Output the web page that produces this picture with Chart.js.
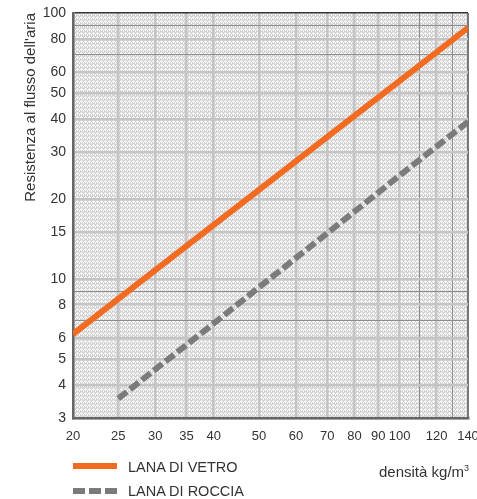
<!DOCTYPE html>
<html><head><meta charset="utf-8">
<script src="https://cdn.jsdelivr.net/npm/chart.js@4.4.0/dist/chart.umd.min.js"></script>
<style>
html,body{margin:0;padding:0;background:#fff;}
#wrap{position:relative;width:477px;height:499px;overflow:hidden;}
canvas{position:absolute;left:0;top:0;}
.leg{position:absolute;font-family:"Liberation Sans",Arial,sans-serif;font-size:14.5px;color:#333;line-height:16px;white-space:nowrap;}
.sw{position:absolute;height:6px;}
</style></head><body>
<div id="wrap">
<canvas id="c" width="477" height="499"></canvas>
<div class="sw" style="left:73px;top:463px;width:44px;background:#f26b21"></div>
<div class="leg" style="left:128px;top:459px">LANA DI VETRO</div>
<div class="sw" style="left:73px;top:488px;width:44px;background:repeating-linear-gradient(90deg,#7b7b7b 0 12px,transparent 12px 16px)"></div>
<div class="leg" style="left:128px;top:483px">LANA DI ROCCIA</div>
<div class="leg" style="left:379px;top:460px;font-size:15px">densità kg/m<span style="font-size:9px;vertical-align:6px">3</span></div>
</div>
<script>
// data
const densitaVetro = [20, 30, 50, 80, 100, 140];
const lanaDiVetro  = [6.2, 10.8, 21.6, 41, 55.6, 88];
const densitaRoccia = [25, 40, 50, 80, 100, 140];
const lanaDiRoccia  = [3.55, 6.8, 9.3, 17.9, 24.5, 39];
const xGrid   = [20, 25, 30, 35, 40, 50, 60, 70, 80, 90, 100, 110, 120, 130, 140];
const xLabels = [20, 25, 30, 35, 40, 50, 60, 70, 80, 90, 100, 120, 140];
const yGrid   = [3, 4, 5, 6, 7, 8, 9, 10, 15, 20, 30, 40, 50, 60, 70, 80, 90, 100];
const yLabels = [3, 4, 5, 6, 8, 10, 15, 20, 30, 40, 50, 60, 80, 100];
const yTitle = "Resistenza al flusso dell'aria";

const toPts = (xs, ys) => xs.map((x, i) => ({x: x, y: ys[i]}));

const bgPlugin = {
  id: 'bg',
  beforeDraw(chart) {
    const {ctx, chartArea: a} = chart;
    const t = document.createElement('canvas'); t.width = 4; t.height = 4;
    const g = t.getContext('2d');
    g.fillStyle = '#d3d3d3'; g.fillRect(0, 0, 4, 4);
    g.fillStyle = '#f7f7f7';
    g.fillRect(1, 0, 1, 1); g.fillRect(0, 1, 3, 1); g.fillRect(1, 2, 1, 1);
    g.fillRect(3, 2, 1, 1); g.fillRect(3, 3, 1, 1);
    ctx.save();
    ctx.fillStyle = ctx.createPattern(t, 'repeat');
    ctx.fillRect(a.left, a.top, a.right - a.left, a.bottom - a.top);
    ctx.restore();
  }
};

const fam = '"Liberation Sans", Arial, sans-serif';

new Chart(document.getElementById('c'), {
  type: 'scatter',
  data: {
    datasets: [
      {label: 'LANA DI VETRO', data: toPts(densitaVetro, lanaDiVetro), showLine: true,
       borderColor: '#f26b21', borderWidth: 6, pointRadius: 0, borderCapStyle: 'butt', tension: 0},
      {label: 'LANA DI ROCCIA', data: toPts(densitaRoccia, lanaDiRoccia), showLine: true,
       borderColor: '#7b7b7b', borderWidth: 6, borderDash: [11, 4], pointRadius: 0, borderCapStyle: 'butt', tension: 0}
    ]
  },
  options: {
    responsive: false, devicePixelRatio: 1, animation: false,
    layout: {padding: {top: 13, right: 9, left: 0, bottom: 0}},
    plugins: {legend: {display: false}, tooltip: {enabled: false}},
    scales: {
      x: {
        type: 'logarithmic', min: 20, max: 140,
        afterBuildTicks: s => { s.ticks = xGrid.map(v => ({value: v})); },
        afterFit: s => { s.height = 81; s.paddingLeft = 0; s.paddingRight = 0; },
        ticks: {autoSkip: false, maxRotation: 0, font: {family: fam, size: 13}, color: '#333', padding: 11,
                callback: v => xLabels.includes(v) ? String(v) : ''},
        grid: {drawTicks: false,
               color: c => c.tick.value === 140 ? '#777' : (xLabels.includes(c.tick.value) ? '#c4c4c4' : '#8c8c8c'),
               lineWidth: c => c.tick.value === 140 ? 2 : (xLabels.includes(c.tick.value) ? 2.5 : 1)},
        border: {display: true, color: '#666', width: 2.5}
      },
      y: {
        type: 'logarithmic', min: 3, max: 100,
        afterBuildTicks: s => { s.ticks = yGrid.map(v => ({value: v})); },
        afterFit: s => { s.width = 73; s.paddingTop = 0; s.paddingBottom = 0; },
        ticks: {autoSkip: false, font: {family: fam, size: 14}, color: '#333', padding: 7,
                callback: v => yLabels.includes(v) ? String(v) : ''},
        grid: {drawTicks: false,
               color: c => c.tick.value === 100 ? '#333' : (yLabels.includes(c.tick.value) ? '#c4c4c4' : '#8c8c8c'),
               lineWidth: c => c.tick.value === 100 ? 1.5 : (yLabels.includes(c.tick.value) ? 2.5 : 1)},
        border: {display: true, color: '#666', width: 2.5},
        title: {display: true, text: yTitle, align: 'end', color: '#333',
                font: {family: fam, size: 15},
                padding: {top: 22, bottom: 0}}
      }
    }
  },
  plugins: [bgPlugin]
});
</script>
</body></html>
